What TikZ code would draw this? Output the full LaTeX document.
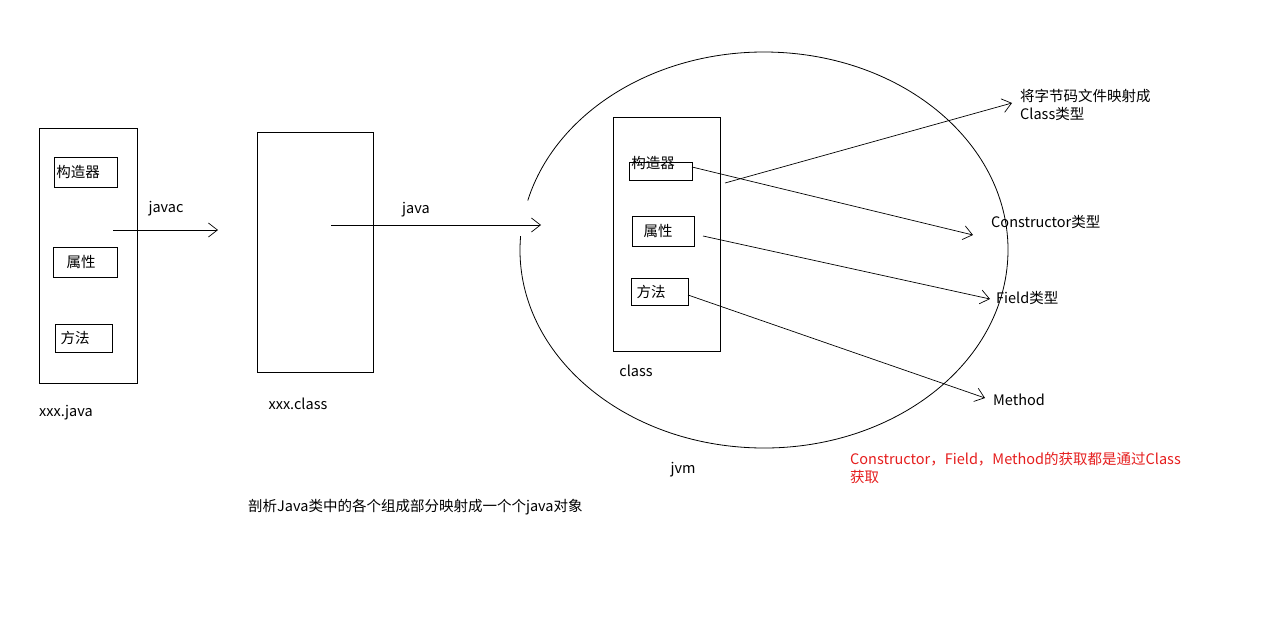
\documentclass[tikz,border=0pt]{standalone}
\usepackage{fontspec}
\setmainfont{Noto Sans CJK SC}
\usetikzlibrary{arrows.meta}
\begin{document}
\begin{tikzpicture}[x=1pt,y=-1pt,
  bx/.style={draw,line width=0.8pt},
  lbl/.style={font=\fontsize{14.5}{18}\selectfont,inner sep=0pt},
  ar/.style={line width=0.7pt,-{Straight Barb[length=9pt,width=14pt]}}]
\useasboundingbox[fill=white] (0,0) rectangle (1266,616);
\draw[bx] (39,128) rectangle (137,383);
\draw[bx] (54,157) rectangle (117,187); \node[lbl] (a1) at (78,172) {构造器};
\draw[bx] (53,247) rectangle (117,277); \node[lbl] (a2) at (81,262) {属性};
\draw[bx] (55,324) rectangle (112,352); \node[lbl] (a3) at (75,338) {方法};
\node[lbl] (xj) at (66,413) {xxx.java};
\coordinate (j1) at (113,230); \coordinate (j2) at (218,230);
\draw[ar] (j1) -- (j2); \node[lbl] (javac) at (166,209) {javac};
\draw[bx] (257,132) rectangle (373,372);
\node[lbl] (xc) at (298,404) {xxx.class};
\coordinate (k1) at (331,225); \coordinate (k2) at (541,225);
\draw[ar] (k1) -- (k2); \node[lbl] (javal) at (416,210) {java};
\draw[line width=0.8pt] (764,250) ++(176:244 and -198) arc[start angle=176,end angle=525.5,x radius=244,y radius=-198];
\draw[bx] (613,117) rectangle (720,351);
\draw[bx] (629,162) rectangle (692,180); \node[lbl] (c1) at (653,163) {构造器};
\draw[bx] (632,216) rectangle (694,246); \node[lbl] (c2) at (658,231) {属性};
\draw[bx] (631,278) rectangle (688,305); \node[lbl] (c3) at (651,292) {方法};
\node[lbl] (cl) at (636,371) {class};
\node[lbl] (jvm) at (683,470) {jvm};
\coordinate (s0) at (725,183); \coordinate (s1) at (1012,103);
\coordinate (s2) at (692,167); \coordinate (e2) at (973,235);
\coordinate (s3) at (703,236); \coordinate (e3) at (990,299);
\coordinate (s4) at (688,295); \coordinate (e4) at (985,398);
\draw[ar] (s0) -- (s1); \draw[ar] (s2) -- (e2); \draw[ar] (s3) -- (e3); \draw[ar] (s4) -- (e4);
\node[lbl,anchor=north west,align=left] (t1) at (1020,89) {将字节码文件映射成\\Class类型};
\node[lbl,anchor=west] (t2) at (991,222) {Constructor类型};
\node[lbl,anchor=west] (t3) at (996,298) {Field类型};
\node[lbl,anchor=west] (t4) at (993,400) {Method};
\node[lbl,anchor=north west,align=left,text={rgb,255:red,230;green,30;blue,30}] (red) at (850,452) {Constructor，Field，Method的获取都是通过Class\\获取};
\node[lbl,anchor=west] (bot) at (248,507) {剖析Java类中的各个组成部分映射成一个个java对象};
\end{tikzpicture}
\end{document}
